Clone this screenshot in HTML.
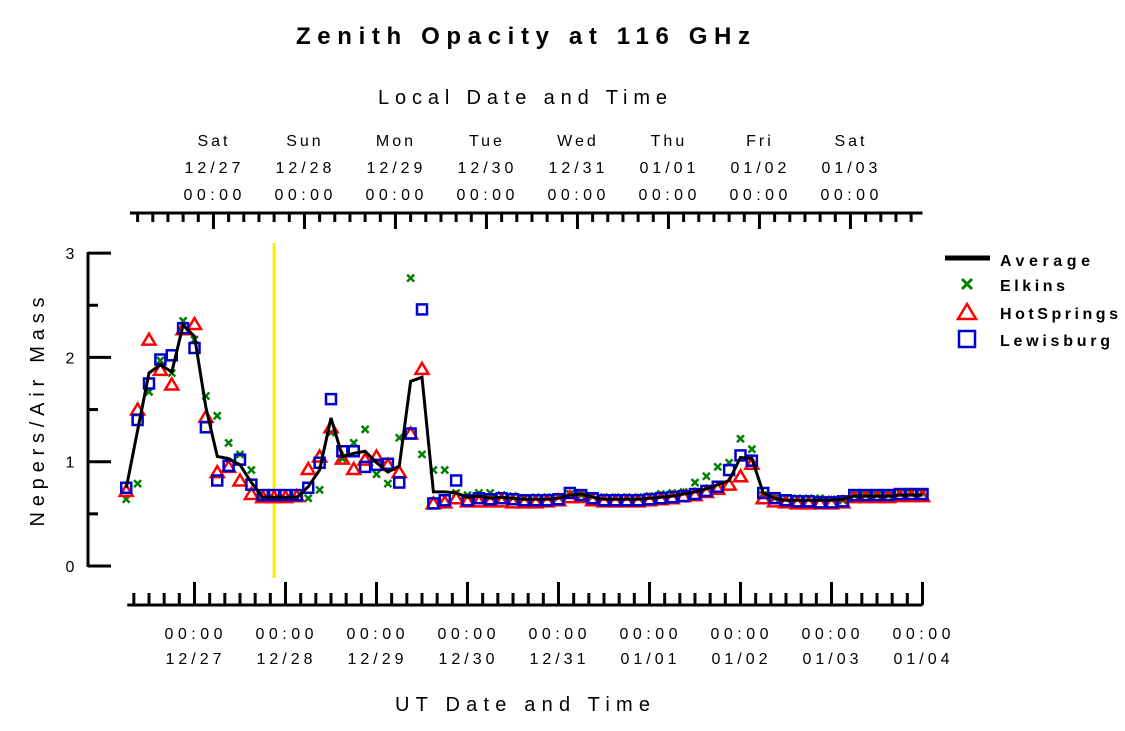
<!DOCTYPE html>
<html><head><meta charset="utf-8"><style>
html,body{margin:0;padding:0;background:#fff;}
svg{display:block;font-family:"Liberation Sans",sans-serif;}
</style></head><body>
<svg id="chart" width="1125" height="731" viewBox="0 0 1125 731" xmlns="http://www.w3.org/2000/svg">
<text x="296" y="44" font-size="24" font-weight="bold" textLength="454" lengthAdjust="spacing">Zenith Opacity at 116 GHz</text>
<text x="378" y="104" font-size="20" textLength="289" lengthAdjust="spacing">Local Date and Time</text>
<text x="395" y="711" font-size="20" textLength="255" lengthAdjust="spacing">UT Date and Time</text>
<text transform="translate(44,412) rotate(-90)" text-anchor="middle" font-size="20" textLength="229" lengthAdjust="spacing">Nepers/Air Mass</text>
<g id="axes"></g>
<g id="marks"></g>
<g id="legend">
 <line x1="945" y1="258" x2="990" y2="258" stroke="#000" stroke-width="5"/>
 <text x="1000" y="266" font-size="16" font-weight="bold" textLength="90" lengthAdjust="spacing">Average</text>
 <g stroke="#008000" stroke-width="3"><line x1="962" y1="279" x2="972" y2="289"/><line x1="972" y1="279" x2="962" y2="289"/></g>
 <text x="1000" y="291" font-size="16" font-weight="bold" textLength="65" lengthAdjust="spacing">Elkins</text>
 <polygon points="967,304 976,319 958,319" fill="none" stroke="#f00" stroke-width="2.5"/>
 <text x="1000" y="319" font-size="16" font-weight="bold" textLength="118" lengthAdjust="spacing">HotSprings</text>
 <rect x="959" y="331" width="16" height="16" fill="none" stroke="#00c" stroke-width="2.5"/>
 <text x="1000" y="346" font-size="16" font-weight="bold" textLength="110" lengthAdjust="spacing">Lewisburg</text>
</g>
</svg>
<script>
// hours relative to 12/27 00:00 UT, 3-hour samples starting -18h
const startHour = -18;
const stepHours = 3;
const average = [0.75,1.30,1.85,1.93,1.86,2.31,2.20,1.52,1.05,1.03,0.97,0.80,0.66,0.66,0.66,0.66,0.76,0.92,1.42,1.05,1.08,1.10,0.99,0.90,0.96,1.77,1.81,0.71,0.71,0.70,0.66,0.67,0.65,0.66,0.65,0.64,0.64,0.64,0.65,0.68,0.69,0.66,0.64,0.64,0.64,0.64,0.65,0.66,0.67,0.69,0.71,0.74,0.78,0.82,1.04,1.03,0.70,0.65,0.63,0.63,0.63,0.63,0.63,0.64,0.67,0.67,0.67,0.67,0.68,0.68,0.68];
const elkins = [0.64,0.79,1.67,1.97,1.85,2.35,2.17,1.63,1.44,1.18,1.07,0.92,0.64,0.65,0.65,0.65,0.65,0.73,1.28,1.03,1.18,1.31,0.88,0.79,1.23,2.76,1.07,0.92,0.92,0.70,0.68,0.70,0.70,0.68,0.67,0.65,0.66,0.66,0.66,0.69,0.68,0.67,0.66,0.66,0.66,0.66,0.67,0.69,0.70,0.71,0.80,0.86,0.95,0.99,1.22,1.12,0.68,0.65,0.65,0.65,0.65,0.65,0.64,0.63,0.68,0.68,0.68,0.68,0.70,0.70,0.70];
const hotsprings = [0.72,1.50,2.17,1.88,1.74,2.27,2.32,1.43,0.90,0.95,0.82,0.69,0.66,0.66,0.66,0.67,0.93,1.05,1.33,1.03,0.93,1.02,1.05,0.97,0.90,1.27,1.89,0.60,0.61,0.65,0.62,0.62,0.62,0.62,0.61,0.61,0.61,0.62,0.63,0.66,0.66,0.63,0.62,0.62,0.62,0.62,0.63,0.64,0.65,0.67,0.68,0.71,0.74,0.78,0.86,0.98,0.65,0.62,0.61,0.60,0.60,0.60,0.60,0.61,0.66,0.66,0.66,0.66,0.67,0.67,0.67];
const lewisburg = [0.75,1.40,1.75,1.98,2.02,2.28,2.09,1.33,0.82,0.96,1.02,0.78,0.68,0.68,0.68,0.68,0.75,0.99,1.60,1.10,1.10,0.95,0.97,0.98,0.80,1.27,2.46,0.60,0.63,0.82,0.63,0.65,0.64,0.65,0.64,0.63,0.63,0.63,0.64,0.70,0.68,0.65,0.63,0.63,0.63,0.63,0.64,0.65,0.66,0.67,0.69,0.72,0.76,0.92,1.06,1.01,0.70,0.65,0.63,0.62,0.62,0.61,0.61,0.62,0.68,0.68,0.68,0.68,0.69,0.69,0.69];
const utLabels = [["00:00","12/27"],["00:00","12/28"],["00:00","12/29"],["00:00","12/30"],["00:00","12/31"],["00:00","01/01"],["00:00","01/02"],["00:00","01/03"],["00:00","01/04"]];
const localLabels = [["Sat","12/27","00:00"],["Sun","12/28","00:00"],["Mon","12/29","00:00"],["Tue","12/30","00:00"],["Wed","12/31","00:00"],["Thu","01/01","00:00"],["Fri","01/02","00:00"],["Sat","01/03","00:00"]];
const yTicks = [0,1,2,3];
const localOffsetHours = 5;
const markerHour = 21;

const NS = "http://www.w3.org/2000/svg";
function X(h){ return 194.5 + h * (91.0/24); }
function Y(v){ return 566 - v * 104.3; }
function mk(tag, attrs, parent){ const e=document.createElementNS(NS,tag); for(const k in attrs) e.setAttribute(k,attrs[k]); parent.appendChild(e); return e; }
const axes=document.getElementById('axes');
const marks=document.getElementById('marks');

let ya=mk('line',{x1:88,y1:Y(3)-1,x2:88,y2:Y(0)+1,stroke:'#000','stroke-width':3},axes);


for(let v=0; v<=3.001; v+=0.5){
  const major = Math.abs(v-Math.round(v))<1e-6;
  const t=mk('line',{x1:88,y1:Y(v),x2:major?111:98,y2:Y(v),stroke:'#000','stroke-width':3},axes);
  
  
}
yTicks.forEach(v=>{
  const t=mk('text',{x:70,y:Y(v)+6,'font-size':16,'text-anchor':'middle'},axes);
  t.textContent=String(v);
  
  
});

const h0=startHour, h1=startHour+stepHours*(average.length-1);
let ba=mk('line',{x1:X(h0)+1,y1:605,x2:X(h1),y2:605,stroke:'#000','stroke-width':3},axes);


for(let h=-16; h<=h1; h+=4){
  const major = h%24===0;
  const t=mk('line',{x1:X(h),y1:605,x2:X(h),y2:major?582:593,stroke:'#000','stroke-width':3},axes);
  
  
}
utLabels.forEach((l,i)=>{
  const cx=X(i*24)-1;
  const a=mk('text',{x:cx-29,y:639,'font-size':16,textLength:58,lengthAdjust:'spacing'},axes);
  a.textContent=l[0];
  
  
  const b=mk('text',{x:cx-28,y:664,'font-size':16,textLength:56,lengthAdjust:'spacing'},axes);
  b.textContent=l[1];
  
  
});

let ta=mk('line',{x1:130,y1:213,x2:X(h1),y2:213,stroke:'#000','stroke-width':3},axes);


for(let h=localOffsetHours-20; h<=h1; h+=4){
  const major = (h-localOffsetHours)%24===0;
  const t=mk('line',{x1:X(h),y1:213,x2:X(h),y2:major?229:222,stroke:'#000','stroke-width':3},axes);
  
  
}
localLabels.forEach((l,i)=>{
  const cx=X(i*24+localOffsetHours)-1;
  const a=mk('text',{x:cx+1.5,y:146,'font-size':16,'text-anchor':'middle','letter-spacing':3},axes);
  a.textContent=l[0];
  
  
  const b=mk('text',{x:cx-28,y:173,'font-size':16,textLength:56,lengthAdjust:'spacing'},axes);
  b.textContent=l[1];
  
  
  const c=mk('text',{x:cx-29,y:200,'font-size':16,textLength:58,lengthAdjust:'spacing'},axes);
  c.textContent=l[2];
  
  
});

let yl=mk('line',{x1:X(markerHour),y1:243,x2:X(markerHour),y2:578,stroke:'#ffee00','stroke-width':3},marks);



function hr(i){ return startHour+i*stepHours; }
elkins.forEach((v,i)=>{
  const x=X(hr(i)), y=Y(v);
  const g=mk('g',{stroke:'#008000','stroke-width':2.5},marks);
  
  
  mk('line',{x1:x-3.5,y1:y-3.5,x2:x+3.5,y2:y+3.5},g);
  mk('line',{x1:x+3.5,y1:y-3.5,x2:x-3.5,y2:y+3.5},g);
});
hotsprings.forEach((v,i)=>{
  const x=X(hr(i)), y=Y(v);
  const p=mk('polygon',{points:`${x},${y-6} ${x+6.5},${y+5} ${x-6.5},${y+5}`,fill:'none',stroke:'#f00','stroke-width':2.5},marks);
  
  
});
lewisburg.forEach((v,i)=>{
  const x=X(hr(i)), y=Y(v);
  const r=mk('rect',{x:x-5,y:y-5,width:10,height:10,fill:'none',stroke:'#00c','stroke-width':2.5},marks);
  
  
});
const pts=average.map((v,i)=>X(hr(i)).toFixed(1)+','+Y(v).toFixed(1)).join(' ');
const pl=mk('polyline',{points:pts,fill:'none',stroke:'#000','stroke-width':3,'stroke-linejoin':'miter'},marks);


</script>
</body></html>
